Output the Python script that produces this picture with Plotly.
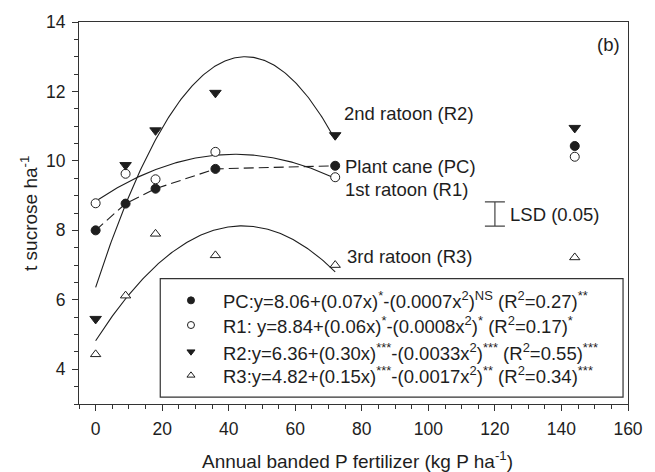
import numpy as np
import plotly.graph_objects as go

# Sucrose yield (t/ha) by annual banded P rate (kg P/ha) for each crop class
p_rate = [0, 9, 18, 36, 72, 144]
pc = [8.00, 8.77, 9.20, 9.77, 9.86, 10.43]
r1 = [8.78, 9.63, 9.47, 10.26, 9.53, 10.12]
r2 = [5.45, 9.88, 10.88, 11.96, 10.74, 10.95]
r3 = [4.43, 6.12, 7.90, 7.28, 7.00, 7.22]

# Quadratic response fits y = c0 + c1*x + c2*x^2 over the fitted P range
r1_fit = [8.84, 0.0645, -0.00077]
r2_fit = [6.36, 0.2951, -0.003279]
r3_fit = [4.82, 0.15, -0.0017]
fit_range = [0, 72]

# LSD (P = 0.05) bar
lsd_x = 120
lsd_mid = 8.47
lsd_value = 0.70

series_names = ["Plant cane (PC)", "1st ratoon (R1)", "2nd ratoon (R2)", "3rd ratoon (R3)"]
equations = [
    "PC:y=8.06+(0.07x)<sup>*</sup>-(0.0007x<sup>2</sup>)<sup>NS</sup> (R<sup>2</sup>=0.27)<sup>**</sup>",
    "R1: y=8.84+(0.06x)<sup>*</sup>-(0.0008x<sup>2</sup>)<sup>*</sup> (R<sup>2</sup>=0.17)<sup>*</sup>",
    "R2:y=6.36+(0.30x)<sup>***</sup>-(0.0033x<sup>2</sup>)<sup>***</sup> (R<sup>2</sup>=0.55)<sup>***</sup>",
    "R3:y=4.82+(0.15x)<sup>***</sup>-(0.0017x<sup>2</sup>)<sup>**</sup> (R<sup>2</sup>=0.34)<sup>***</sup>",
]

INK = "#1e1e1e"
FONT = "Liberation Sans, Arial, sans-serif"
W, H = 655, 472
ML, MR, MT, MB = 79, 22, 17, 68
TXT = 18.5


def paper(px, py):
    """Pixel position in the page -> paper coordinates."""
    return (px - ML) / (W - ML - MR), (H - MB - py) / (H - MT - MB)


def quad(c, x):
    return c[0] + c[1] * x + c[2] * x ** 2


styles = [
    dict(symbol="circle", color=INK, line=dict(color=INK, width=1)),
    dict(symbol="circle", color="white", line=dict(color=INK, width=1)),
    dict(symbol="triangle-down", color=INK, line=dict(color=INK, width=1)),
    dict(symbol="triangle-up", color="white", line=dict(color=INK, width=1)),
]
sizes = [9, 9, 10, 9]

fig = go.Figure()

# fitted curves
xf = np.linspace(fit_range[0], fit_range[1], 200)
for c in (r1_fit, r2_fit, r3_fit):
    fig.add_trace(go.Scatter(x=xf, y=quad(c, xf), mode="lines",
                             line=dict(color=INK, width=1.1), hoverinfo="skip"))

# plant cane: dashed line through the means up to the fitted range
n_fit = sum(1 for v in p_rate if v <= fit_range[1])
fig.add_trace(go.Scatter(x=p_rate[:n_fit], y=pc[:n_fit], mode="lines",
                         line=dict(color=INK, width=1.1, dash="10px,5px"), hoverinfo="skip"))

# LSD bar
fig.add_trace(go.Scatter(x=[lsd_x], y=[lsd_mid], mode="markers",
                         marker=dict(size=1, color="rgba(0,0,0,0)"),
                         error_y=dict(type="constant", value=lsd_value / 2, color="#444",
                                      thickness=1.2, width=10),
                         hoverinfo="skip"))

# treatment means
for vals, st, sz, nm in zip([pc, r1, r2, r3], styles, sizes, series_names):
    fig.add_trace(go.Scatter(x=p_rate, y=vals, mode="markers", name=nm,
                             marker=dict(size=sz, **st)))

# key symbols on a hidden 0-1 overlay so they sit inside the key box
key_px = 192
key_rows = [299, 324, 351, 375]
for row, st in zip(key_rows, styles):
    kx, ky = paper(key_px, row)
    fig.add_trace(go.Scatter(x=[kx], y=[ky], xaxis="x2", yaxis="y2", mode="markers",
                             marker=dict(size=7, **st), hoverinfo="skip"))

annotations = []
for row, eq in zip(key_rows, equations):
    ax, ay = paper(222, row)
    annotations.append(dict(x=ax, y=ay, xref="paper", yref="paper", text=eq,
                            showarrow=False, xanchor="left", yanchor="middle",
                            font=dict(size=TXT, color=INK)))

label_pos = [(345, 163), (345, 187), (344, 110), (347, 255)]
for (lx, ly), nm in zip(label_pos, series_names):
    ax, ay = paper(lx, ly)
    annotations.append(dict(x=ax, y=ay, xref="paper", yref="paper", text=nm,
                            showarrow=False, xanchor="left", yanchor="middle",
                            font=dict(size=TXT, color=INK)))

ax, ay = paper(512, 212)
annotations.append(dict(x=ax, y=ay, xref="paper", yref="paper", text="LSD (0.05)",
                        showarrow=False, xanchor="left", yanchor="middle",
                        font=dict(size=TXT, color=INK)))
ax, ay = paper(613, 40)
annotations.append(dict(x=ax, y=ay, xref="paper", yref="paper", text="(b)",
                        showarrow=False, xanchor="center", yanchor="middle",
                        font=dict(size=TXT, color=INK)))

# axis titles
ax, ay = paper(360, 461)
annotations.append(dict(x=ax, y=ay, xref="paper", yref="paper",
                        text="Annual banded P fertilizer (kg P ha<sup>-1</sup>)",
                        showarrow=False, xanchor="center", yanchor="middle",
                        font=dict(size=19, color=INK)))
ax, ay = paper(29, 211)
annotations.append(dict(x=ax, y=ay, xref="paper", yref="paper",
                        text="t sucrose ha<sup>-1</sup>", textangle=-90,
                        showarrow=False, xanchor="center", yanchor="middle",
                        font=dict(size=19, color=INK)))

# key frame
kx0, ky0 = paper(161, 397)
kx1, ky1 = paper(628, 277)
shapes = [dict(type="rect", xref="paper", yref="paper", x0=kx0, y0=ky0, x1=kx1, y1=ky1,
               line=dict(color="#333", width=1.2), fillcolor="rgba(0,0,0,0)", layer="above")]

axis_common = dict(showline=True, linecolor="#333", linewidth=1.2, mirror=True,
                   showgrid=False, zeroline=False, ticks="outside", ticklen=6,
                   tickcolor="#333", tickwidth=1.2, tickfont=dict(size=17.5, color=INK),
                   ticklabelstandoff=3)

fig.update_layout(
    width=W, height=H,
    margin=dict(l=ML, r=MR, t=MT, b=MB),
    plot_bgcolor="white", paper_bgcolor="white",
    font=dict(family=FONT, color=INK),
    showlegend=False,
    xaxis=dict(range=[-5, 160], tickmode="linear", tick0=0, dtick=20,
               minor=dict(tick0=0, dtick=5, ticks="outside", ticklen=3.5,
                          tickcolor="#333", tickwidth=1, showgrid=False),
               **axis_common),
    yaxis=dict(range=[3, 14], tickmode="linear", tick0=0, dtick=2,
               minor=dict(tick0=0, dtick=0.5, ticks="outside", ticklen=3.5,
                          tickcolor="#333", tickwidth=1, showgrid=False),
               **axis_common),
    xaxis2=dict(overlaying="x", range=[0, 1], visible=False, fixedrange=True),
    yaxis2=dict(overlaying="y", range=[0, 1], visible=False, fixedrange=True),
    annotations=annotations,
    shapes=shapes,
)

fig.write_html("out.html")
